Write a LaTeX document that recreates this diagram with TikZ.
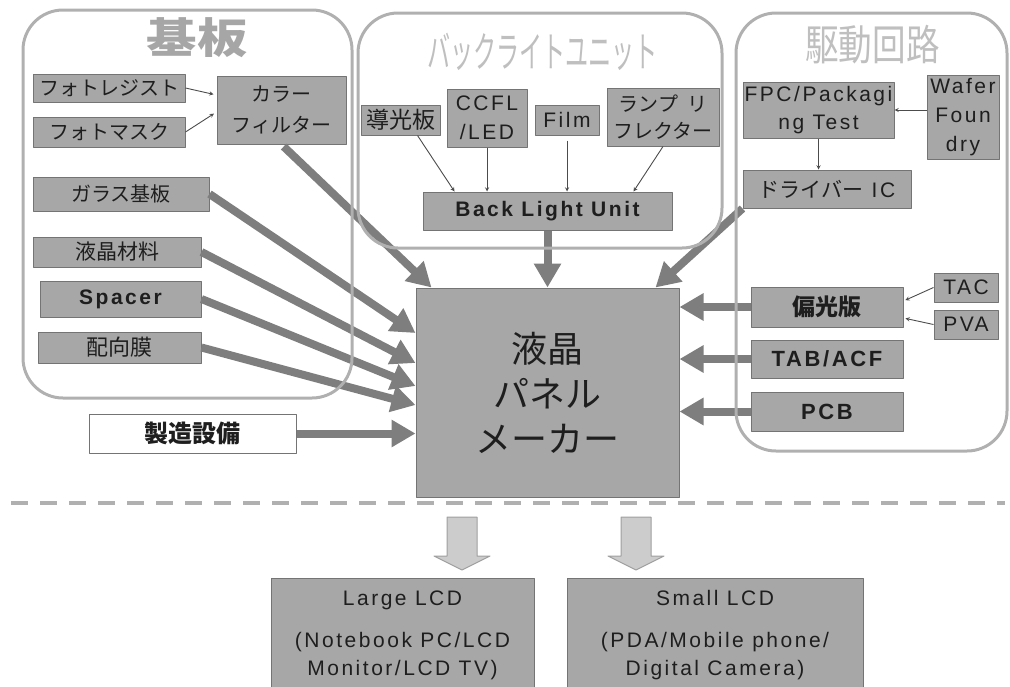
\documentclass[tikz,border=0pt]{standalone}
\usepackage{fontspec}
\usepackage{graphicx}
\setmainfont{Liberation Sans}[LetterSpace=12]
\newfontfamily\jp{Noto Sans CJK JP}
\usetikzlibrary{arrows.meta}
\definecolor{boxgray}{HTML}{A7A7A7}
\definecolor{boxline}{HTML}{747474}
\definecolor{fatgray}{HTML}{7E7E7E}
\definecolor{grpgray}{HTML}{B0B0B0}
\definecolor{inkgray}{HTML}{1E1E1E}
\newcommand{\fnt}[2]{\fontsize{#1}{#2}\selectfont}
\tikzset{
  box/.style={draw=boxline, fill=boxgray, line width=1pt, inner sep=0pt, align=center, text=inkgray, font=\fnt{21}{27}},
  sz/.style 2 args={minimum width=#1pt, minimum height=#2pt},
  fat/.style={draw=fatgray, line width=8pt, -{Triangle[width=26pt,length=24pt]}},
  feed/.style={draw=black!70, line width=0.9pt, ->},
  grp/.style={draw=grpgray, line width=3pt, rounded corners=40pt},
  title/.style={text=#1, inner sep=0pt},
}
\begin{document}
\begin{tikzpicture}[x=1pt, y=-1pt, >=stealth, line join=round]
    \useasboundingbox (0,0) rectangle (1010,686);
    \clip (0,0) rectangle (1010,686);

    % group titles
    \node[title=gray!70] (t-sub) at (197,38) {\scalebox{1.2}[1]{\jp\bfseries\fnt{42}{42}基板}};
    \node[title=gray!50] (t-blu) at (542.5,52) {\scalebox{0.55}[1]{\jp\fnt{42}{42}バックライトユニット}};
    \node[title=gray!50] (t-drv) at (872.5,45) {\scalebox{0.8}[1]{\jp\fnt{42}{42}駆動回路}};

    % 基板
    \node[box, sz={152}{28}, font=\jp\fnt{20}{24}] (resist) at (109,88) {フォトレジスト};
    \node[box, sz={152}{30}, font=\jp\fnt{20}{24}] (mask) at (109,132) {フォトマスク};
    \node[box, sz={129}{68}, font=\jp\fnt{20}{31}] (filter) at (281.5,110) {カラー\\フィルター};
    \node[box, sz={176}{34}, font=\jp\fnt{20}{24}] (glass) at (121,194) {ガラス基板};
    \node[box, sz={168}{30}, font=\jp\fnt{21}{24}] (lcmat) at (117,252) {液晶材料};
    \node[box, sz={161}{36}, font=\bfseries\fnt{21}{24}] (spacer) at (120.5,299) {Spacer};
    \node[box, sz={163}{31}, font=\jp\fnt{22}{24}] (align) at (119.5,347.5) {配向膜};
    \node[box, sz={207}{39}, fill=white, font=\jp\bfseries\fnt{24}{26}] (equip) at (192.5,433.5) {製造設備};

    % panel maker
    \node[box, sz={263}{209}, font=\jp\fnt{36}{45}] (panel) at (547.5,392.5) {液晶\\パネル\\メーカー};

    % back light unit
    \node[box, sz={79}{30}, font=\jp\fnt{23}{24}] (guide) at (400.5,120) {導光板};
    \node[box, sz={80}{58}, font=\fnt{21}{29}] (ccfl) at (487,118) {CCFL\\/LED};
    \node[box, sz={64}{30}] (film) at (567,120) {Film};
    \node[box, sz={112}{58}, font=\jp\fnt{20}{27}] (reflector) at (663,117) {ランプ\ \ リ\\フレクター};
    \node[box, sz={249}{38}, font=\bfseries\fnt{21}{24}] (blu) at (547.5,211) {Back Light Unit};

    % 駆動回路
    \node[box, sz={151}{56}, font=\fnt{21}{28}] (fpc) at (818.5,110) {FPC/Packagi\\ng Test};
    \node[box, sz={72}{84}, font=\fnt{21}{29}] (wafer) at (963,117) {Wafer\\Foun\\dry};
    \node[box, sz={168}{38}] (driver) at (827,189) {{\jp ドライバー} IC};
    \node[box, sz={152}{40}, font=\jp\bfseries\fnt{23}{24}] (polar) at (827,307) {偏光版};
    \node[box, sz={152}{38}, font=\bfseries\fnt{22}{24}] (tab) at (827,359) {TAB/ACF};
    \node[box, sz={152}{39}, font=\bfseries\fnt{22}{24}] (pcb) at (827,411.5) {PCB};
    \node[box, sz={64}{29}] (tac) at (966,287.5) {TAC};
    \node[box, sz={64}{29}] (pva) at (966,324.5) {PVA};

    % products
    \node[box, sz={263}{114}, anchor=north, font=\fnt{21}{28}] (large) at (402.5,578) {Large LCD\\[14pt](Notebook PC/LCD\\Monitor/LCD TV)};
    \node[box, sz={296}{114}, anchor=north, font=\fnt{21}{28}] (small) at (715,578) {Small LCD\\[14pt](PDA/Mobile phone/\\Digital Camera)};

    % small feeds
    \draw[feed, shorten >=3pt] (resist.east) -- (filter.west |- 0,95);
    \draw[feed, shorten >=3pt] (mask.east) -- (filter.west |- 0,112);
    \draw[feed] ([xshift=17pt]guide.south) -- ([xshift=32pt]blu.north west);
    \draw[feed] (ccfl.south) -- (blu.north -| ccfl.south);
    \draw[feed, shorten <=5pt] (film.south) -- (blu.north -| film.south);
    \draw[feed] (reflector.south) -- ([xshift=-39pt]blu.north east);
    \draw[feed] (wafer.west |- fpc.east) -- (fpc.east);
    \draw[feed] (fpc.south) -- (fpc.south |- driver.north);
    \draw[feed, shorten >=2pt] (tac.west) -- (polar.east |- 0,301);
    \draw[feed, shorten >=2pt] (pva.west) -- (polar.east |- 0,318);

    % main flows into the panel
    \draw[fat, shorten <=3pt] (filter.south) -- ([xshift=16pt]panel.north west);
    \draw[fat] (glass.east) -- (panel.west |- 0,333);
    \draw[fat] (lcmat.east) -- (panel.west |- 0,363);
    \draw[fat] (spacer.east) -- (panel.west |- 0,386);
    \draw[fat] (align.east) -- (panel.west |- 0,405);
    \draw[fat] (equip.east) -- (panel.west |- equip.east);
    \draw[fat] (blu.south) -- (panel.north);
    \draw[fat] (driver.south west) -- ([xshift=-24pt]panel.north east);
    \draw[fat] (polar.west) -- (panel.east |- polar.west);
    \draw[fat] (tab.west) -- (panel.east |- tab.west);
    \draw[fat] (pcb.west) -- (panel.east |- pcb.west);

    % separator and outputs
    \draw[grpgray, line width=4pt, dash pattern=on 17pt off 12pt] (11,503) -- (1005,503);
    \foreach \ax in {462,636}
        \draw[fill=gray!40, draw=gray!75, line width=1pt] (\ax-15,517) -- (\ax+15,517) -- (\ax+15,556) -- (\ax+28,556)
            -- (\ax,570) -- (\ax-28,556) -- (\ax-15,556) -- cycle;

    % group frames
    \draw[grp] (23,10) rectangle (352,398);
    \draw[grp] (358,13) rectangle (722,248);
    \draw[grp] (736,13) rectangle (1007,451);
\end{tikzpicture}
\end{document}
